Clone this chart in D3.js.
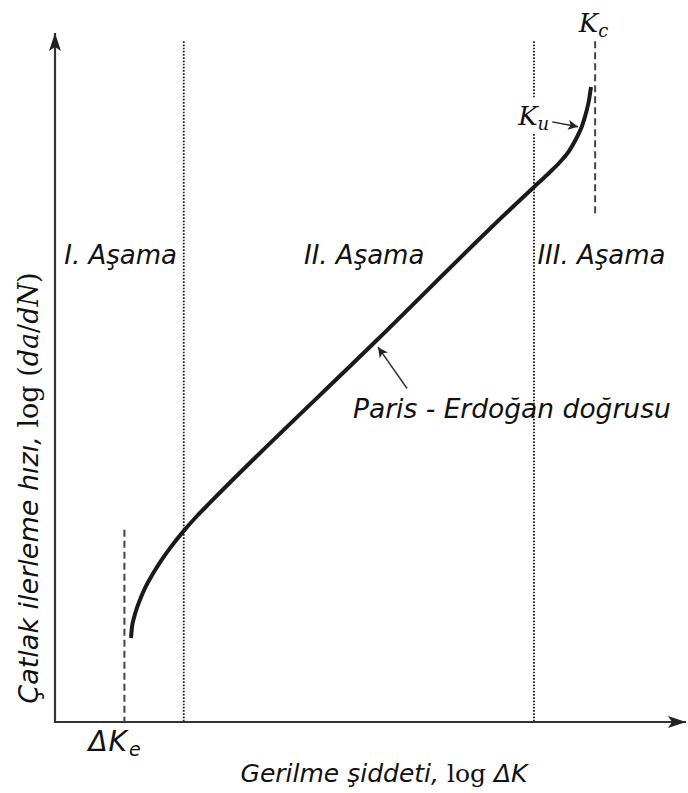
<!DOCTYPE html>
<html><head><meta charset="utf-8">
<script src="https://cdn.jsdelivr.net/npm/d3@7"></script>
<style>html,body{margin:0;padding:0;background:#fff;}svg{display:block;}</style>
</head><body>
<script>
// ---- data (abstract log units, 0..100) ----
const curveX = [12.04, 12.20, 12.52, 13.00, 13.63, 14.42, 15.53, 16.80, 18.23, 20.44, 22.50, 24.56,
                51.03, 72.11, 75.91, 78.13, 80.03, 81.46, 82.57, 83.52, 84.15, 84.63, 84.94];
const curveY = [12.19, 13.75, 15.14, 16.60, 18.12, 19.71, 21.55, 23.40, 25.24, 27.78, 29.90, 31.83,
                55.44, 74.38, 77.65, 79.54, 81.28, 82.87, 84.62, 86.50, 88.39, 90.28, 92.16];
const stageBounds = [20.4, 75.9];
const stageLabels = ["I. Aşama", "II. Aşama", "III. Aşama"];
const stageLabelX = [10.4, 49.0, 86.6];
const stageLabelY = 66.5;
const thresholdX = [11.0, 85.6];          // ΔKe, Kc
const thresholdYTop = [27.9, 98.8];
const thresholdYBottom = [0, 73.8];

const W = 688, H = 793;
const x = d3.scaleLinear().domain([0, 100]).range([55, 686]);
const y = d3.scaleLinear().domain([0, 100]).range([722, 33]);

const svg = d3.select("body").append("svg").attr("width", W).attr("height", H);
const defs = svg.append("defs");
defs.append("marker").attr("id","ah").attr("viewBox","0 0 10 10").attr("refX",10).attr("refY",5)
  .attr("markerWidth",10).attr("markerHeight",10).attr("markerUnits","userSpaceOnUse").attr("orient","auto")
  .append("path").attr("d","M0,0 L10,5 L0,10 L2.5,5 Z").attr("fill","#222");
defs.append("marker").attr("id","axh").attr("viewBox","0 0 18 12").attr("refX",18).attr("refY",6)
  .attr("markerWidth",18).attr("markerHeight",12).attr("markerUnits","userSpaceOnUse").attr("orient","auto")
  .append("path").attr("d","M0,0 L18,6 L0,12 L4,6 Z").attr("fill","#222");

const sans = "'DejaVu Sans', Verdana, sans-serif";
const serif = "'DejaVu Serif', 'Liberation Serif', serif";

// stage boundary dotted lines
stageBounds.forEach(b => {
  svg.append("line").attr("x1", x(b)).attr("x2", x(b)).attr("y1", y(98.8)).attr("y2", y(0))
    .attr("stroke", "#222").attr("stroke-width", 1.8).attr("stroke-dasharray", "1.7,1.5");
});

// threshold dashed lines
thresholdX.forEach((t, i) => {
  svg.append("line").attr("x1", x(t)).attr("x2", x(t)).attr("y1", y(thresholdYTop[i])).attr("y2", y(thresholdYBottom[i]))
    .attr("stroke", "#444").attr("stroke-width", 2).attr("stroke-dasharray", "7,4");
});

// axes
svg.append("line").attr("x1", x(0)).attr("x2", x(0)).attr("y1", y(0)+1).attr("y2", y(100))
  .attr("stroke", "#333").attr("stroke-width", 2.2).attr("marker-end", "url(#axh)");
svg.append("line").attr("x1", x(0)-1).attr("x2", x(100)).attr("y1", y(0)).attr("y2", y(0))
  .attr("stroke", "#333").attr("stroke-width", 2.2).attr("marker-end", "url(#axh)");

// curve
const pts = curveX.map((v, i) => [x(v), y(curveY[i])]);
svg.append("path").attr("d", d3.line().curve(d3.curveMonotoneX)(pts))
  .attr("fill", "none").attr("stroke", "#1a1a1a").attr("stroke-width", 4).attr("stroke-linecap","butt");

// stage labels
stageLabels.forEach((s, i) => {
  svg.append("text").attr("x", x(stageLabelX[i])).attr("y", y(stageLabelY)).attr("text-anchor", "middle")
    .attr("font-family", sans).attr("font-style", "italic").attr("font-size", 26).attr("fill", "#111").text(s);
});

// Paris - Erdoğan annotation
svg.append("line").attr("x1", x(55.8)).attr("y1", y(48.4)).attr("x2", x(51.2)).attr("y2", y(54.4))
  .attr("stroke", "#333").attr("stroke-width", 1.5).attr("marker-end", "url(#ah)");
svg.append("text").attr("x", x(72.4)).attr("y", y(44.1)).attr("text-anchor", "middle")
  .attr("font-family", sans).attr("font-style", "italic").attr("font-size", 26.5).attr("fill", "#111")
  .text("Paris - Erdoğan doğrusu");

// Ku label with white box
svg.append("rect").attr("x", x(73.3)).attr("y", y(90.6)).attr("width", 34).attr("height", 36).attr("fill", "#fff");
const ku = svg.append("text").attr("x", x(73.4)).attr("y", y(86.6)).attr("font-family", serif).attr("font-size", 26).attr("fill", "#111");
ku.append("tspan").attr("font-style", "italic").text("K");
ku.append("tspan").attr("font-style", "italic").attr("font-size", 18).attr("dy", 5).text("u");
svg.append("line").attr("x1", x(78.8)).attr("y1", y(87.1)).attr("x2", x(82.9)).attr("y2", y(86.4))
  .attr("stroke", "#222").attr("stroke-width", 1.5).attr("marker-end", "url(#ah)");

// Kc label
const kc = svg.append("text").attr("x", x(83.0)).attr("y", y(100.2)).attr("font-family", serif).attr("font-size", 26).attr("fill", "#111");
kc.append("tspan").attr("font-style", "italic").text("K");
kc.append("tspan").attr("font-style", "italic").attr("font-size", 18).attr("dy", 5).text("c");

// ΔKe label
const dke = svg.append("text").attr("x", x(5.3)).attr("y", y(-4.2)).attr("font-family", sans).attr("font-style","italic").attr("font-size", 28).attr("fill", "#111");
dke.append("tspan").attr("letter-spacing", 1).text("ΔK");
dke.append("tspan").attr("font-size", 19).attr("dx", 1).attr("dy", 5).text("e");

// x-axis title
const xt = svg.append("text").attr("x", 384).attr("y", 782).attr("text-anchor", "middle").attr("font-size", 25).attr("fill", "#111");
xt.append("tspan").attr("font-family", sans).attr("font-style", "italic").text("Gerilme şiddeti,");
xt.append("tspan").attr("font-family", serif).text(" log ");
xt.append("tspan").attr("font-family", sans).attr("font-style", "italic").text("ΔK");

// y-axis title
const yt = svg.append("text").attr("transform", "translate(38,488) rotate(-90)").attr("text-anchor", "middle").attr("font-size", 27).attr("fill", "#111");
yt.append("tspan").attr("font-family", sans).attr("font-style", "italic").text("Çatlak ilerleme hızı,");
yt.append("tspan").attr("font-family", serif).text(" log (");
yt.append("tspan").attr("font-family", serif).attr("font-style", "italic").text("da");
yt.append("tspan").attr("font-family", serif).text("/");
yt.append("tspan").attr("font-family", serif).attr("font-style", "italic").text("dN");
yt.append("tspan").attr("font-family", serif).text(")");
</script>
</body></html>
